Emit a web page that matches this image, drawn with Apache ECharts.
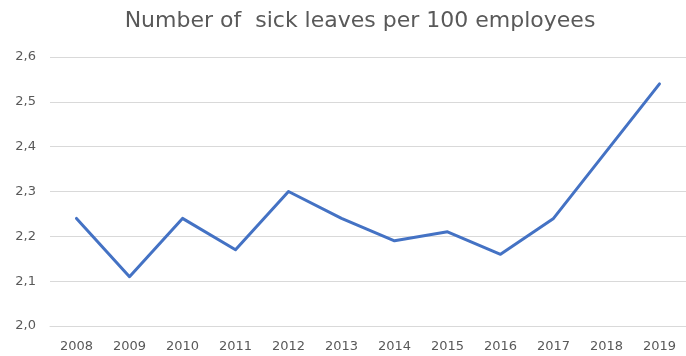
<!DOCTYPE html>
<html>
<head>
<meta charset="utf-8">
<script src="https://cdn.jsdelivr.net/npm/echarts@6/dist/echarts.min.js"></script>
<style>
html,body{margin:0;padding:0;background:#fff;}
#chart{width:686px;height:356px;}
</style>
</head>
<body>
<div id="chart"></div>
<script>
var titleText = 'Number of  sick leaves per 100 employees';
var years = ['2008','2009','2010','2011','2012','2013','2014','2015','2016','2017','2018','2019'];
var sickLeaves = [2.24, 2.11, 2.24, 2.17, 2.30, 2.24, 2.19, 2.21, 2.16, 2.24, 2.39, 2.54];
var yMin = 2.0, yMax = 2.6, yStep = 0.1;

var chart = echarts.init(document.getElementById('chart'), null, {renderer: 'canvas'});
chart.setOption({
  animation: false,
  backgroundColor: '#ffffff',
  title: {
    text: titleText,
    left: 355,
    textAlign: 'center',
    top: 5,
    textStyle: {fontFamily: 'DejaVu Sans', fontSize: 22, fontWeight: 'normal', color: '#595959'}
  },
  grid: {left: 50, right: -6, top: 57, bottom: 30, containLabel: false},
  xAxis: {
    type: 'category',
    data: years,
    boundaryGap: true,
    axisLine: {show: true, lineStyle: {color: '#d9d9d9', width: 1}},
    axisTick: {show: false},
    axisLabel: {color: '#595959', fontFamily: 'DejaVu Sans', fontSize: 13, margin: 14}
  },
  yAxis: {
    type: 'value',
    min: yMin, max: yMax, interval: yStep,
    axisLine: {show: false},
    axisTick: {show: false},
    splitLine: {show: true, lineStyle: {color: '#d9d9d9', width: 1}},
    axisLabel: {
      color: '#595959', fontFamily: 'DejaVu Sans', fontSize: 13, margin: 14,
      formatter: function (v) { return v.toFixed(1).replace('.', ','); }
    }
  },
  series: [{
    type: 'line',
    data: sickLeaves,
    symbol: 'none',
    lineStyle: {color: '#4472C4', width: 3, cap: 'round', join: 'round'},
    itemStyle: {color: '#4472C4'}
  }]
});
</script>
</body>
</html>
